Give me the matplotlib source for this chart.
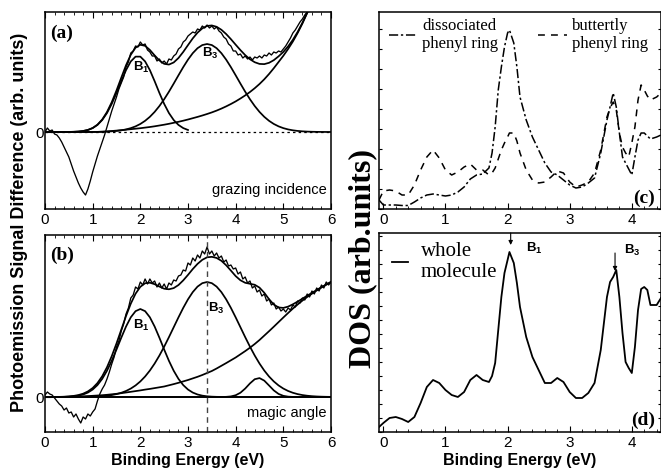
import numpy as np
import matplotlib
matplotlib.use('Agg')
import matplotlib.pyplot as plt
from matplotlib.ticker import MultipleLocator

plt.rcParams['font.family'] = ['Liberation Sans', 'DejaVu Sans']
plt.rcParams['mathtext.fontset'] = 'custom'
plt.rcParams['mathtext.rm'] = 'Liberation Sans'
plt.rcParams['mathtext.bf'] = 'Liberation Sans:bold'
SERIF = ['Liberation Serif', 'DejaVu Serif']

# ---------- panel (a): grazing incidence ----------
E_a = np.round(np.arange(0, 5.551, 0.05), 2)
meas_a = [0.0, 0.4, 0.1, 0.2, -0.2, -0.3, -0.6, -1.0, -1.5, -2.0,
          -2.5, -3.2, -3.9, -4.5, -5.1, -5.6, -6.0, -6.3, -5.7, -4.9,
          -4.0, -3.2, -2.4, -1.7, -1.0, -0.3, 0.5, 1.3, 2.1, 2.8,
          3.5, 4.3, 4.9, 5.5, 6.5, 7.0, 7.9, 8.1, 8.6, 8.5,
          9.0, 8.7, 8.8, 8.2, 8.0, 7.6, 7.6, 7.1, 7.3, 6.9,
          7.1, 6.8, 7.3, 7.2, 7.6, 7.8, 8.3, 8.5, 9.0, 9.2,
          9.6, 9.8, 10.0, 9.9, 10.3, 10.2, 10.6, 10.4, 10.7, 10.4,
          10.6, 10.3, 10.5, 10.1, 9.9, 9.5, 9.3, 8.8, 8.6, 8.1,
          8.1, 7.7, 7.8, 7.4, 7.6, 7.3, 7.5, 7.2, 7.5, 7.4,
          7.6, 7.4, 7.7, 7.6, 7.9, 7.7, 8.0, 7.9, 8.1, 8.0,
          8.3, 8.6, 9.0, 9.4, 9.9, 10.2, 10.6, 11.0, 11.3, 11.7,
          12.0, 12.5]
E_fit = np.round(np.arange(0, 6.001, 0.1), 2)
bg_a = [0, 0, 0, 0, 0, 0, 0, 0, 0, 0, 0,
        0.01, 0.03, 0.06, 0.1, 0.14, 0.18, 0.23, 0.28, 0.33, 0.38,
        0.44, 0.5, 0.57, 0.65, 0.73, 0.82, 0.92, 1.02, 1.13, 1.25,
        1.38, 1.51, 1.65, 1.8, 1.96, 2.14, 2.34, 2.56, 2.8, 3.06,
        3.35, 3.66, 4.0, 4.38, 4.8, 5.27, 5.8, 6.38, 7.0, 7.62,
        8.3, 9.05, 9.9, 10.85, 11.9, 13.0, 14.2, 15.5, 16.9, 18.3]
# fitted peaks: (centre eV, height, width eV)
peaks_a = {'B1': (1.95, 7.6, 0.39), 'B3': (3.4, 8.8, 0.64)}

# ---------- panel (b): magic angle ----------
E_b = np.round(np.arange(0, 6.001, 0.05), 2)
meas_b = [0.2, 0.5, 0.3, 0.2, -0.1, -0.4, -0.7, -0.9, -1.3, -1.1,
          -1.6, -1.5, -2.0, -1.7, -2.2, -2.6, -2.0, -2.2, -1.7, -1.9,
          -1.5, -1.2, -0.4, 0.3, 0.8, 1.2, 1.8, 2.5, 3.3, 4.0,
          5.0, 5.6, 6.6, 7.3, 8.3, 8.9, 9.9, 10.2, 11.0, 10.8,
          11.5, 11.2, 11.8, 11.3, 11.8, 11.4, 11.6, 11.0, 11.4, 10.9,
          11.3, 10.8, 11.4, 11.2, 11.7, 11.6, 12.1, 12.2, 12.7, 12.6,
          13.4, 13.2, 13.9, 13.6, 14.2, 13.9, 14.6, 14.3, 15.0, 14.3,
          14.6, 14.1, 14.4, 13.9, 14.1, 13.5, 13.7, 13.1, 13.2, 12.8,
          12.9, 12.3, 12.5, 11.8, 12.0, 11.4, 11.6, 10.9, 11.1, 10.5,
          10.7, 10.1, 10.3, 9.6, 9.8, 9.2, 9.4, 8.8, 9.0, 8.6,
          8.8, 8.5, 8.9, 8.7, 9.2, 9.0, 9.6, 9.4, 9.9, 9.7,
          10.3, 10.0, 10.6, 10.3, 10.9, 10.6, 11.2, 10.9, 11.5, 11.2,
          11.5]
bg_b = [0, 0, 0, 0.005, 0.01, 0.02, 0.035, 0.05, 0.07, 0.095, 0.12,
        0.15, 0.18, 0.22, 0.27, 0.32, 0.38, 0.45, 0.52, 0.59, 0.66,
        0.74, 0.81, 0.89, 0.97, 1.05, 1.17, 1.29, 1.42, 1.56, 1.7,
        1.86, 2.02, 2.2, 2.4, 2.6, 2.85, 3.12, 3.39, 3.67, 3.95,
        4.27, 4.59, 4.93, 5.3, 5.7, 6.14, 6.58, 7.03, 7.49, 7.95,
        8.4, 8.84, 9.25, 9.64, 10.0, 10.33, 10.65, 10.95, 11.23, 11.5]
peaks_b = {'B1': (2.0, 8.8, 0.45), 'B3': (3.4, 11.5, 0.7), 'P4': (4.48, 1.9, 0.22)}
marker_b = 3.4

# ---------- panels (c), (d): calculated DOS ----------
E_calc = [-0.07, 0.0, 0.1, 0.2, 0.3, 0.4, 0.5, 0.6, 0.7, 0.8, 0.9, 1.0, 1.1, 1.2,
          1.3, 1.4, 1.5, 1.6, 1.7, 1.75, 1.8, 1.85, 1.9, 1.95, 2.0, 2.03, 2.1,
          2.15, 2.2, 2.3, 2.4, 2.5, 2.6, 2.7, 2.8, 2.9, 3.0, 3.1, 3.2, 3.3, 3.4,
          3.5, 3.6, 3.65, 3.7, 3.75, 3.8, 3.85, 3.9, 3.95, 4.0, 4.05, 4.1, 4.15,
          4.2, 4.25, 4.3, 4.4, 4.47]
dos_dissoc = [0.9, 0.4, 0.4, 0.4, 0.35, 0.35, 0.7, 1.1, 1.4, 1.5, 1.4, 1.3, 1.4, 1.7,
              2.2, 3.0, 3.4, 3.5, 4.1, 5.6, 8.2, 11.9, 14.2, 16.2, 17.6, 17.9, 16.6,
              14.2, 11.2, 8.9, 7.2, 5.9, 4.6, 3.7, 3.4, 2.9, 2.4, 2.1, 2.2, 2.6, 3.1,
              5.6, 8.9, 10.2, 11.6, 10.2, 7.6, 5.2, 4.6, 4.0, 3.4, 5.2, 6.9, 7.6,
              7.6, 7.3, 7.0, 7.2, 7.4]
dos_butterfly = [0.9, 1.8, 1.9, 1.8, 1.4, 1.4, 2.4, 3.9, 5.2, 5.9, 5.1, 3.9, 3.4, 3.7,
                 4.2, 4.5, 3.9, 3.9, 3.4, 3.6, 4.1, 5.0, 5.9, 6.6, 7.2, 7.6, 7.6,
                 6.8, 5.6, 3.9, 2.9, 2.6, 2.7, 3.2, 3.8, 3.6, 2.7, 2.2, 2.4, 2.7, 3.6,
                 5.9, 9.2, 10.1, 10.7, 9.9, 7.6, 6.2, 5.6, 5.2, 6.6, 8.2, 10.9, 12.4,
                 11.9, 11.3, 10.9, 11.2, 11.6]
dos_whole = [0.5, 0.9, 1.4, 1.5, 1.3, 1.0, 1.5, 2.9, 4.5, 5.2, 4.9, 4.2, 3.7, 3.5,
             4.0, 5.2, 5.7, 5.2, 5.0, 5.6, 6.9, 10.2, 13.5, 15.9, 17.2, 18.0, 16.9,
             14.9, 12.5, 9.5, 7.5, 6.2, 4.9, 4.9, 5.4, 5.0, 4.0, 3.4, 3.4, 3.9, 4.9,
             8.2, 13.5, 15.0, 15.5, 16.2, 13.5, 9.9, 7.0, 6.4, 5.9, 8.5, 12.2, 14.3,
             14.5, 14.2, 12.7, 12.7, 13.4]
# arrow: (energy, tip height, tail height)
arrows_d = {'B1': (2.05, 18.7, 19.9), 'B3': (3.73, 16.1, 17.9)}


def gauss(x, c, h, w):
    return h * np.exp(-(x - c) ** 2 / (2 * w ** 2))


fig = plt.figure(figsize=(6.61, 4.73), dpi=100)
W, H = 661.0, 473.0
ax_a = fig.add_axes([45 / W, 1 - 209 / H, 286 / W, 197 / H])
ax_b = fig.add_axes([45 / W, 1 - 432 / H, 286 / W, 197 / H])
ax_c = fig.add_axes([379 / W, 1 - 209 / H, 282 / W, 197 / H])
ax_d = fig.add_axes([379 / W, 1 - 432 / H, 282 / W, 199 / H])

lw_fit = 1.25
lw_meas = 0.95

# (a)
ax_a.axhline(0, color='k', lw=0.9, ls=(0, (2, 2.5)))
x = E_fit
bgA = np.array(bg_a)
b1 = gauss(x, *peaks_a['B1'])
b3 = gauss(x, *peaks_a['B3'])
ax_a.plot(x[x <= 3.0], b1[x <= 3.0], color='k', lw=lw_fit)
ax_a.plot(x, b3, color='k', lw=lw_fit)
ax_a.plot(x, bgA, color='k', lw=lw_fit)
ax_a.plot(x, b1 + b3 + bgA, color='k', lw=lw_fit)
ax_a.plot(E_a, meas_a, color='k', lw=lw_meas)
ax_a.set_ylim(-7.7, 12.0)
ax_a.text(1.84, 6.5, r'$\mathbf{B_1}$', fontsize=9.5, ha='left', va='center')
ax_a.text(3.29, 7.9, r'$\mathbf{B_3}$', fontsize=9.5, ha='left', va='center')
ax_a.text(0.986, 0.096, 'grazing incidence', transform=ax_a.transAxes,
          fontsize=10.5, ha='right', va='center')
ax_a.text(0.017, 0.893, '(a)', transform=ax_a.transAxes, fontsize=14,
          fontweight='bold', family=SERIF, ha='left', va='center')

# (b)
ax_b.axhline(0, color='k', lw=lw_fit)
bgB = np.array(bg_b)
comps = [gauss(x, *p) for p in peaks_b.values()]
for cmp in comps:
    ax_b.plot(x, cmp, color='k', lw=lw_fit)
ax_b.plot(x, bgB, color='k', lw=lw_fit)
ax_b.plot(x, sum(comps) + bgB, color='k', lw=lw_fit)
ax_b.plot(E_b, meas_b, color='k', lw=lw_meas)
ax_b.axvline(marker_b, color='#444444', lw=1.0, ls=(0, (4, 3)))
ax_b.set_ylim(-3.5, 16.2)
ax_b.text(1.84, 7.2, r'$\mathbf{B_1}$', fontsize=9.5, ha='left', va='center')
ax_b.text(3.42, 8.9, r'$\mathbf{B_3}$', fontsize=9.5, ha='left', va='center')
ax_b.text(0.986, 0.096, 'magic angle', transform=ax_b.transAxes,
          fontsize=10.5, ha='right', va='center')
ax_b.text(0.017, 0.898, '(b)', transform=ax_b.transAxes, fontsize=14,
          fontweight='bold', family=SERIF, ha='left', va='center')
ax_b.set_xlabel('Binding Energy (eV)', fontsize=11.5, fontweight='bold', labelpad=2)

for ax in (ax_a, ax_b):
    ax.set_xlim(0, 6)
    ax.set_xticks(range(0, 7))
    ax.xaxis.set_minor_locator(MultipleLocator(0.2))
    ax.set_yticks([0])
    ax.tick_params(axis='both', which='both', direction='in', top=True, labelsize=11, pad=3)
    ax.tick_params(axis='x', which='major', length=4)
    ax.tick_params(axis='x', which='minor', length=2.5)
    ax.tick_params(axis='y', length=4, pad=1)

# (c)
ax_c.plot(E_calc, dos_dissoc, color='k', lw=1.1, ls=(0, (6, 1.8, 1.5, 1.8)),
          label='dissociated\nphenyl ring')
ax_c.plot(E_calc, dos_butterfly, color='k', lw=1.1, ls=(0, (4.5, 4)),
          label='buttertly\nphenyl ring')
ax_c.set_ylim(0, 19.7)
ax_c.legend(loc='upper left', bbox_to_anchor=(0.0, 1.02), ncol=2, frameon=False,
            prop={'family': SERIF, 'size': 12}, handlelength=1.7, handletextpad=0.3,
            columnspacing=2.4, labelspacing=0.1, borderaxespad=0.2)
ax_c.text(0.979, 0.056, '(c)', transform=ax_c.transAxes, fontsize=14,
          fontweight='bold', family=SERIF, ha='right', va='center')
ax_c.yaxis.set_major_locator(MultipleLocator(2.0))

# (d)
ax_d.plot(E_calc, dos_whole, color='k', lw=1.3, label='whole\nmolecule')
ax_d.set_ylim(0, 19.9)
for name, (ex, tip, tail) in arrows_d.items():
    ax_d.annotate('', xy=(ex, tip), xytext=(ex, tail),
                  arrowprops=dict(arrowstyle='-|>', color='k', lw=0.8,
                                  mutation_scale=6, shrinkA=0, shrinkB=0))
ax_d.text(2.29, 18.4, r'$\mathbf{B_1}$', fontsize=9.5, ha='left', va='center')
ax_d.text(3.87, 18.2, r'$\mathbf{B_3}$', fontsize=9.5, ha='left', va='center')
ax_d.legend(loc='upper left', bbox_to_anchor=(0.0, 1.02), frameon=False,
            prop={'family': SERIF, 'size': 15}, handlelength=0.8, handletextpad=0.6,
            labelspacing=0.1, borderaxespad=0.2)
ax_d.text(0.979, 0.06, '(d)', transform=ax_d.transAxes, fontsize=14,
          fontweight='bold', family=SERIF, ha='right', va='center')
ax_d.yaxis.set_major_locator(MultipleLocator(1.4))
ax_d.set_xlabel('Binding Energy (eV)', fontsize=11.5, fontweight='bold', labelpad=2)

for ax in (ax_c, ax_d):
    ax.set_xlim(-0.07, 4.47)
    ax.set_xticks(range(0, 5))
    ax.xaxis.set_minor_locator(MultipleLocator(0.2))
    ax.tick_params(axis='both', which='both', direction='in', labelsize=11, pad=3)
    ax.tick_params(axis='x', which='major', length=4)
    ax.tick_params(axis='x', which='minor', length=2.5)
    ax.tick_params(axis='y', length=2.5, right=True, labelleft=False)

for ax in (ax_a, ax_b, ax_c, ax_d):
    for s in ax.spines.values():
        s.set_linewidth(1.1)

fig.text(20 / W, 1 - 222 / H, 'Photoemission Signal Difference (arb. units)',
         rotation=90, fontsize=13, fontweight='bold', ha='center', va='center')
fig.text(363 / W, 1 - 258 / H, 'DOS (arb.units)', rotation=90, fontsize=23,
         fontweight='bold', family=SERIF, ha='center', va='center')

fig.savefig('out.png', dpi=100)
